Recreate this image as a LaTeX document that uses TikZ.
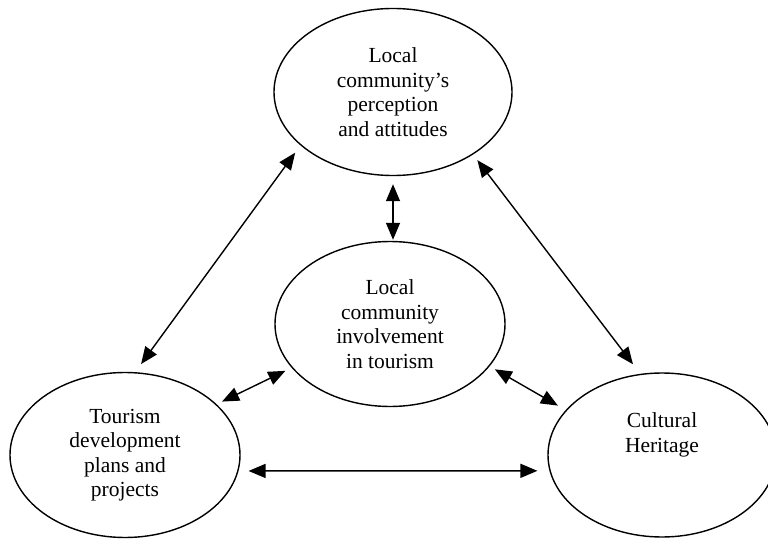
\documentclass[tikz,border=0pt]{standalone}
\usepackage{fontspec}
\setmainfont{Liberation Serif}
\usetikzlibrary{shapes.geometric,arrows.meta}

\tikzset{
  bubbletext/.style={align=center, font=\fontsize{21.5}{24.5}\selectfont},
  bubble/.style={ellipse, draw, line width=1.4pt, inner sep=0pt, bubbletext},
  link/.style={{Triangle[length=17pt,width=14pt]}-{Triangle[length=17pt,width=14pt]}, line width=1.4pt}
}

\begin{document}
\begin{tikzpicture}[x=1pt,y=-1pt]
		\clip (0,0) rectangle (768,540);
		
		\node (attitudes) [bubble, minimum width=238pt, minimum height=167pt] at (393,92) {Local\\community's\\perception\\and attitudes};
		\node (involvement) [bubble, minimum width=230pt, minimum height=165pt] at (390,324) {Local\\community\\involvement\\in tourism};
		\node (plans) [bubble, minimum width=230pt, minimum height=165pt] at (125,455) {Tourism\\development\\plans and\\projects};
		\node (heritage) [bubble, minimum width=228pt, minimum height=164pt,
			label={[bubbletext, yshift=20pt]center:Cultural\\Heritage}] at (662,455) {};
		
		\draw[link, shorten <=9pt, shorten >=10pt] (attitudes.210) -- (plans.83);
		\draw[link, shorten <=7pt, shorten >=12pt] (attitudes.322) -- (heritage.105);
		\draw[link, shorten <=8pt, shorten >=1pt] (attitudes.south) -- (attitudes.south |- involvement.north);
		
		\draw[link, shorten <=7pt, shorten >=6pt] (involvement.204) -- (plans.29);
		\draw[link, shorten <=6pt, shorten >=9pt] (involvement.337) -- (heritage.155);
		\draw[link, shorten <=10pt, shorten >=12pt] (plans.-8) -- (heritage.188);
	\end{tikzpicture}
\end{document}
